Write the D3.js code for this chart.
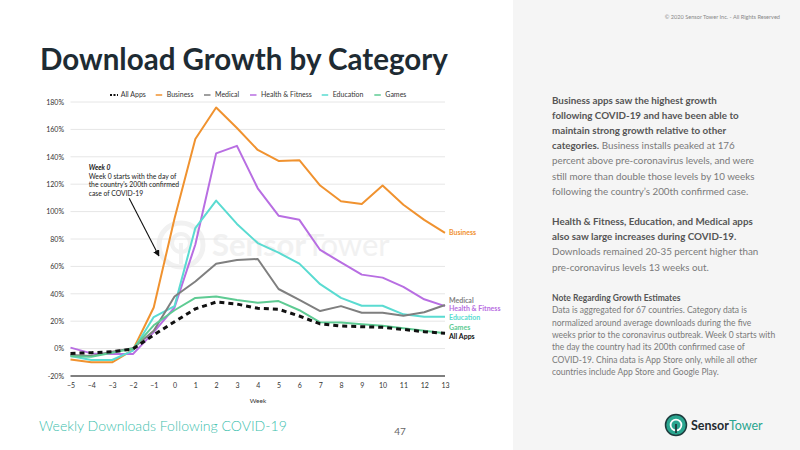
<!DOCTYPE html>
<html>
<head>
<meta charset="utf-8">
<script src="https://cdn.jsdelivr.net/npm/d3@7"></script>
<style>
    body { margin: 0; background: #fff; }
    svg { display: block; font-family: Lato, "Noto Sans", sans-serif; }
</style>
</head>
<body>
<figure id="chart" style="margin:0"></figure>
<script>
// weekly download growth vs. pre-coronavirus baseline (%)
const weeks = [-5, -4, -3, -2, -1, 0, 1, 2, 3, 4, 5, 6, 7, 8, 9, 10, 11, 12, 13];
const business = [-8, -10, -10, -1, 30, 95, 153, 176, 161, 145, 137, 137.5, 119, 107.5, 105.5, 119, 105, 94, 84.5];
const medical = [-4.7, -5.4, -2.3, 0.2, 13, 38, 49, 62, 64.7, 65.4, 43.5, 35.5, 27.4, 31, 26.2, 26.2, 24, 26.5, 31.8];
const healthFitness = [0.7, -3.5, -4, -4, 12, 30, 76, 142.5, 148, 117, 97, 94, 72, 63, 54, 51.8, 45, 36, 31];
const education = [-5.4, -8.3, -8.3, -1.5, 23, 31, 88, 108, 91, 77, 70, 62, 47, 37, 31.3, 31.3, 25, 23.3, 23.3];
const games = [-5.5, -6, -3, 0, 17, 28, 37, 38, 35.5, 33.5, 34.7, 28, 19.2, 19, 17.7, 16.7, 14.8, 13, 11.2];
const allApps = [-3.5, -3, -2.3, -0.3, 10, 19.6, 29, 34, 32.5, 29.4, 28.7, 23.8, 18, 16.5, 16, 15.5, 14, 12.3, 11.2];
const yTicks = [-20, 0, 20, 40, 60, 80, 100, 120, 140, 160, 180];

const series = [
    { name: "All Apps", values: allApps, color: "#111", dashed: true, labelY: 336.7 },
    { name: "Business", values: business, color: "#f0922f", labelY: 232.7 },
    { name: "Medical", values: medical, color: "#7f7f7f", labelY: 300.7 },
    { name: "Health & Fitness", values: healthFitness, color: "#b86ee2", labelY: 308.7 },
    { name: "Education", values: education, color: "#5adbd1", labelY: 317.3 },
    { name: "Games", values: games, color: "#5ecb93", labelY: 327.7 }
];

const width = 800, height = 450;
const svg = d3.select("#chart").append("svg")
    .attr("width", width)
    .attr("height", height);

// grey side panel
svg.append("rect").attr("x", 513).attr("y", 0).attr("width", 287).attr("height", height).attr("fill", "#f5f5f5");

// fit a text element to a given width
function fit(sel, w) {
    const len = sel.node().getComputedTextLength();
    const fs = parseFloat(sel.attr("font-size"));
    sel.attr("font-size", fs * w / len);
}

fit(svg.append("text").attr("x", 40).attr("y", 70)
    .attr("font-size", 30).attr("font-weight", 700).attr("fill", "#1e2b33")
    .text("Download Growth by Category"), 408);

svg.append("text").attr("x", 780).attr("y", 19).attr("text-anchor", "end")
    .attr("font-size", 5.6).attr("fill", "#888")
    .text("© 2020 Sensor Tower Inc. - All Rights Reserved");

var x = d3.scaleLinear().domain([-5, 13]).range([70.5, 445]);
var y = d3.scaleLinear().domain([-20, 180]).range([376, 102]);

// watermark
var wm = svg.append("g");
wm.append("circle").attr("cx", 181).attr("cy", 245).attr("r", 22)
    .attr("fill", "none").attr("stroke", "#f1f1f1").attr("stroke-width", 5);
wm.append("circle").attr("cx", 181).attr("cy", 243).attr("r", 9)
    .attr("fill", "none").attr("stroke", "#f1f1f1").attr("stroke-width", 4);
wm.append("line").attr("x1", 181).attr("x2", 181).attr("y1", 243).attr("y2", 264)
    .attr("stroke", "#f1f1f1").attr("stroke-width", 4);
wm.append("text").attr("x", 212).attr("y", 256).attr("font-size", 31)
    .attr("fill", "#f1f1f1").attr("font-weight", 700)
    .text("Sensor").append("tspan").attr("font-weight", 400).text("Tower");

// gridlines
svg.append("g").selectAll("line").data(yTicks).enter().append("line")
    .attr("x1", x(-5)).attr("x2", x(13))
    .attr("y1", d => y(d)).attr("y2", d => y(d))
    .attr("stroke", d => d === -20 ? "#555" : "#e6e6e6")
    .attr("stroke-width", d => d === -20 ? 1.5 : 1);

var yAxis = svg.append("g").attr("transform", "translate(64,0)")
    .call(d3.axisLeft(y).tickValues(yTicks).tickSize(0).tickPadding(0).tickFormat(d => d + "%"));
yAxis.select(".domain").remove();
yAxis.selectAll("text").attr("font-size", 7).attr("fill", "#333").attr("font-family", "Lato, sans-serif");

var xAxis = svg.append("g").attr("transform", "translate(0,383)")
    .call(d3.axisBottom(x).tickValues(weeks).tickSize(0).tickPadding(0).tickFormat(d3.format("d")));
xAxis.select(".domain").remove();
xAxis.selectAll("text").attr("font-size", 7).attr("fill", "#333").attr("font-family", "Lato, sans-serif");

svg.append("text").attr("x", 258).attr("y", 403).attr("text-anchor", "middle")
    .attr("font-size", 6.5).attr("fill", "#333").text("Week");

// lines
var line = d3.line().x((d, i) => x(weeks[i])).y(d => y(d));
var drawOrder = [series[1], series[3], series[4], series[2], series[5], series[0]];
svg.append("g").selectAll("path").data(drawOrder).enter().append("path")
    .attr("d", d => line(d.values))
    .attr("fill", "none")
    .attr("stroke", d => d.color)
    .attr("stroke-width", d => d.dashed ? 3 : 2)
    .attr("stroke-dasharray", d => d.dashed ? "5,4" : null)
    .attr("stroke-linejoin", "round");

// end labels
svg.append("g").selectAll("text").data(series).enter().append("text")
    .attr("x", x(13) + 4).attr("y", d => d.labelY)
    .attr("dy", "0.35em").attr("font-size", 7).attr("font-weight", 700)
    .attr("fill", d => d.color)
    .text(d => d.name);

// legend
var legendX = [110, 155.7, 204, 250, 321.7, 374.3];
var legend = svg.append("g").selectAll("g").data(series).enter().append("g")
    .attr("transform", (d, i) => "translate(" + legendX[i] + ",95)");
legend.append("line").attr("x1", 0).attr("x2", d => d.dashed ? 8 : 6.5)
    .attr("stroke", d => d.color).attr("stroke-width", d => d.dashed ? 2 : 1.5)
    .attr("stroke-dasharray", d => d.dashed ? "2,1.5" : null);
legend.append("text").attr("x", d => d.dashed ? 10.7 : 11).attr("dy", "0.35em")
    .attr("font-size", 7).attr("fill", "#333").text(d => d.name);

// annotation for week 0
var note = svg.append("text").attr("x", 88.7).attr("y", 170).attr("font-size", 6.8).attr("fill", "#222");
note.append("tspan").attr("font-weight", 700).attr("font-style", "italic").text("Week 0");
["Week 0 starts with the day of", "the country's 200th confirmed", "case of COVID-19"].forEach(function (t) {
    note.append("tspan").attr("x", 88.7).attr("dy", 8.7).text(t);
});
svg.append("defs").append("marker").attr("id", "arrow")
    .attr("viewBox", "0 0 10 10").attr("refX", 9).attr("refY", 5)
    .attr("markerWidth", 6).attr("markerHeight", 6).attr("orient", "auto")
    .append("path").attr("d", "M0,0L10,5L0,10z").attr("fill", "#111");
svg.append("line")
    .attr("x1", x(-2.18)).attr("y1", y(109.7))
    .attr("x2", x(-0.75)).attr("y2", y(67.6))
    .attr("stroke", "#111").attr("stroke-width", 1.1)
    .attr("marker-end", "url(#arrow)");

// side panel text
function para(lines, y0, step, fs) {
    var t = svg.append("text").attr("font-size", fs);
    lines.forEach(function (ln, i) {
        var row = t.append("tspan").attr("x", 552).attr("y", y0 + i * step);
        ln.forEach(function (seg) {
            row.append("tspan").attr("font-weight", seg[1] ? 700 : 400)
                .attr("fill", seg[1] ? "#555" : "#7a7a7a").text(seg[0]);
        });
    });
}
para([
    [["Business apps saw the highest growth", 1]],
    [["following COVID-19 and have been able to", 1]],
    [["maintain strong growth relative to other", 1]],
    [["categories.", 1], [" Business installs peaked at 176", 0]],
    [["percent above pre-coronavirus levels, and were", 0]],
    [["still more than double those levels by 10 weeks", 0]],
    [["following the country\u2019s 200th confirmed case.", 0]]
], 103.5, 15.2, 9.8);
para([
    [["Health & Fitness, Education, and Medical apps", 1]],
    [["also saw large increases during COVID-19.", 1]],
    [["Downloads remained 20-35 percent higher than", 0]],
    [["pre-coronavirus levels 13 weeks out.", 0]]
], 225, 15.2, 9.8);
para([
    [["Note Regarding Growth Estimates", 1]],
    [["Data is aggregated for 67 countries. Category data is", 0]],
    [["normalized around average downloads during the five", 0]],
    [["weeks prior to the coronavirus outbreak. Week 0 starts with", 0]],
    [["the day the country had its 200th confirmed case of", 0]],
    [["COVID-19. China data is App Store only, while all other", 0]],
    [["countries include App Store and Google Play.", 0]]
], 301, 12.35, 8.5);

// footer
fit(svg.append("text").attr("x", 39).attr("y", 431).attr("font-size", 15)
    .attr("fill", "#3cc0ad").attr("font-weight", 300)
    .text("Weekly Downloads Following COVID-19"), 248);
svg.append("text").attr("x", 400).attr("y", 435).attr("text-anchor", "middle")
    .attr("font-size", 10).attr("fill", "#666").text("47");

// logo
var logo = svg.append("g").attr("transform", "translate(676,425)");
logo.append("circle").attr("r", 10.5).attr("fill", "#2aa58f").attr("stroke", "#1e3a3c").attr("stroke-width", 1.5);
logo.append("path").attr("d", d3.arc()({ innerRadius: 4.5, outerRadius: 6.3, startAngle: Math.PI * 0.75, endAngle: Math.PI * 3.25 }))
    .attr("fill", "#fff");
logo.append("rect").attr("x", -0.9).attr("y", -1).attr("width", 1.8).attr("height", 9).attr("fill", "#1e3a3c");
svg.append("text").attr("x", 691).attr("y", 429.5).attr("font-size", 12.5).attr("font-weight", 700)
    .attr("fill", "#1f2a30").text("Sensor")
    .append("tspan").attr("font-weight", 400).attr("fill", "#2aa58f").text("Tower");
</script>
</body>
</html>
